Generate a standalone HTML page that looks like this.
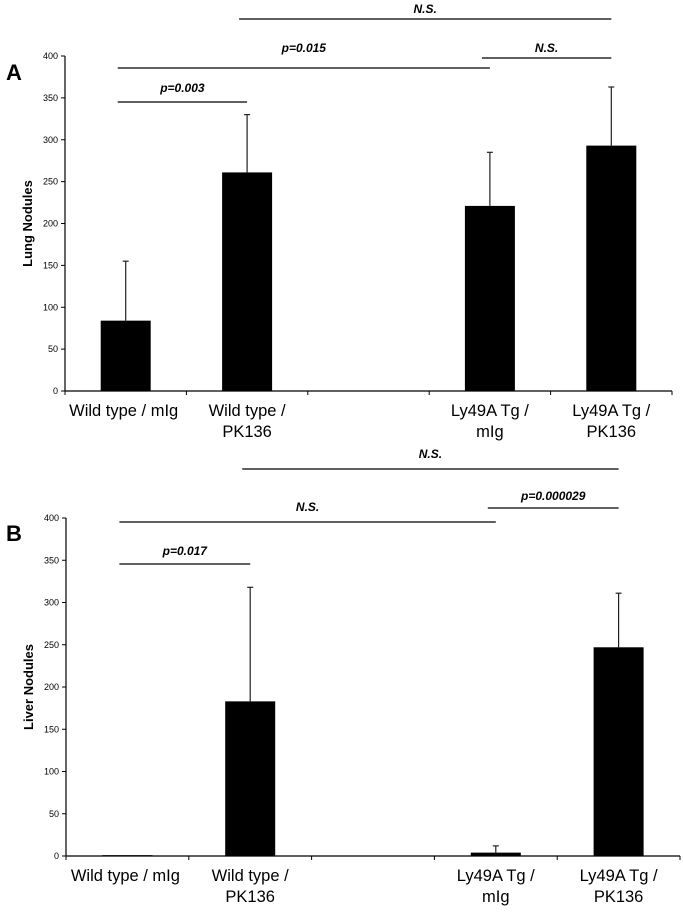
<!DOCTYPE html>
<html><head><meta charset="utf-8"><style>
html,body{margin:0;padding:0;background:#fff;}
svg{display:block;font-family:"Liberation Sans",Arial,sans-serif;}
</style></head><body>
<svg id="chart" width="683" height="913" viewBox="0 0 683 913" xmlns="http://www.w3.org/2000/svg"></svg>
<script>
const categories = [["Wild type / mIg"],["Wild type /","PK136"],[""],["Ly49A Tg /","mIg"],["Ly49A Tg /","PK136"]];
const lungValues = [84, 261, null, 221, 293];
const lungErrors = [71, 69, null, 64, 70];
const liverValues = [1, 183, null, 4, 247];
const liverErrors = [0, 135, null, 8, 64];
const yTicks = [0, 50, 100, 150, 200, 250, 300, 350, 400];
const lungSig = [["p=0.003",0,1,102,92],["p=0.015",0,3,68,52],["N.S.",1,4,19,13],["N.S.",3,4,58,52]];
const liverSig = [["p=0.017",0,1,564,555],["N.S.",0,3,522,511],["N.S.",1,4,469,458],["p=0.000029",3,4,508,500]];

const svg = document.getElementById('chart');
const NS = 'http://www.w3.org/2000/svg';
function mk(tag, attrs, parent){const e=document.createElementNS(NS,tag);for(const k in attrs)e.setAttribute(k,attrs[k]);(parent||svg).appendChild(e);return e;}

function panel(cfg){
  const g = mk('g',{});
  
  
  const {x0,x1,y0,y1} = cfg;
  const bw = (x1-x0)/categories.length;
  const xc = i => x0 + bw*(i+0.5);
  const ys = v => y0 - (v/400)*(y0-y1);
  const L = mk('text',{x:cfg.letterX,y:cfg.letterY,'font-size':22,'font-weight':'bold'},g); L.textContent=cfg.letter;
  
  
  const ya = mk('line',{x1:x0,y1:y0,x2:x0,y2:y1,stroke:'#000','stroke-width':1.2},g);
  
  
  yTicks.forEach(t=>{
    mk('line',{x1:x0-4,y1:ys(t),x2:x0,y2:ys(t),stroke:'#000'},g);
    const tt = mk('text',{x:x0-7,y:ys(t)+3,'font-size':9,'text-anchor':'end'},g); tt.textContent=t;
    
    
  });
  const yt = mk('text',{transform:`translate(${x0-33},${(y0+y1)/2}) rotate(-90)`,'font-size':13,'font-weight':'bold','text-anchor':'middle'},g);
  yt.textContent = cfg.title;
  
  
  const xa = mk('line',{x1:x0,y1:y0,x2:x1,y2:y0,stroke:'#000','stroke-width':1.2},g);
  
  
  for(let i=0;i<=categories.length;i++) mk('line',{x1:x0+bw*i,y1:y0,x2:x0+bw*i,y2:y0+4,stroke:'#000'},g);
  categories.forEach((c,i)=>{
    c.forEach((ln,j)=>{
      if(!ln) return;
      const t = mk('text',{x:xc(i)+(i===0?-2:0),y:y0+cfg.labelDy+j*21,'font-size':16.5,'text-anchor':'middle'},g);
      t.textContent = ln;
      
      
    });
  });
  cfg.values.forEach((v,i)=>{
    if(v===null) return;
    const top = ys(v);
    const r = mk('rect',{x:xc(i)-25,y:top,width:50,height:Math.max(y0-top,1),fill:'#000'},g);
    
    
    const e = cfg.errors[i];
    if(e>0){
      const et = ys(v+e);
      const el = mk('line',{x1:xc(i),y1:top,x2:xc(i),y2:et,stroke:'#222','stroke-width':1.2},g);
      
      
      mk('line',{x1:xc(i)-3,y1:et,x2:xc(i)+3,y2:et,stroke:'#222','stroke-width':1.2},g);
    }
  });
  cfg.sig.forEach(s=>{
    const [lab,a,b,ly,ty] = s;
    const xa_ = xc(a)-8, xb_ = xc(b);
    const l = mk('line',{x1:xa_,y1:ly,x2:xb_,y2:ly,stroke:'#000','stroke-width':1.2},g);
    
    
    const t = mk('text',{x:(xa_+xb_)/2,y:ty,'font-size':12,'font-weight':'bold','font-style':'italic','text-anchor':'middle'},g);
    t.textContent = lab;
    
    
  });
}
panel({name:'lung-panel',letter:'A',letterX:6,letterY:80,x0:65,x1:672,y0:391,y1:56,title:'Lung Nodules',values:lungValues,errors:lungErrors,sig:lungSig,labelDy:25});
panel({name:'liver-panel',letter:'B',letterX:6,letterY:541,x0:66,x1:680,y0:856,y1:518,title:'Liver Nodules',values:liverValues,errors:liverErrors,sig:liverSig,labelDy:25});
</script>
</body></html>
